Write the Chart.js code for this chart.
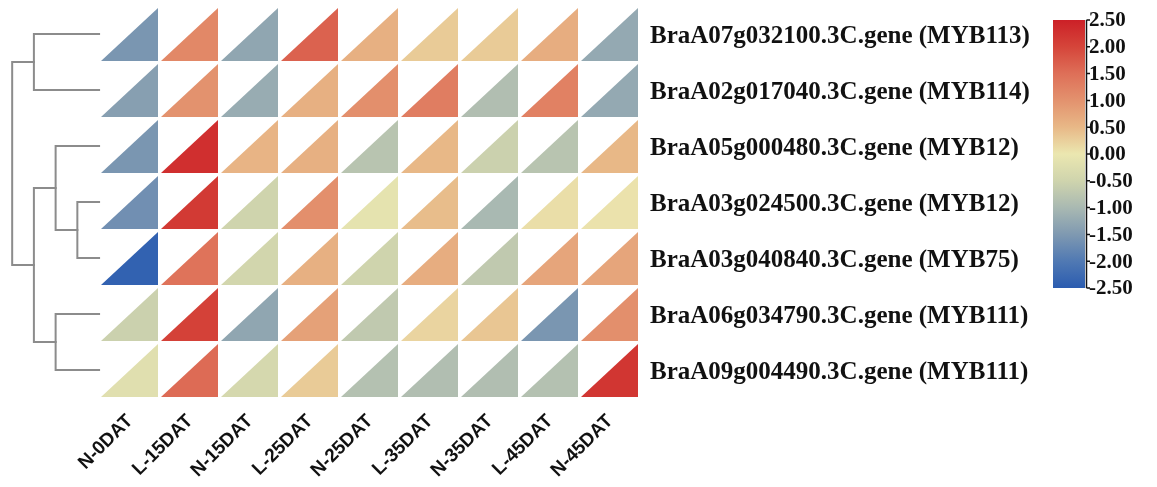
<!DOCTYPE html>
<html>
<head>
<meta charset="utf-8">
<script src="https://cdn.jsdelivr.net/npm/chart.js@4.4.0/dist/chart.umd.min.js"></script>
<style>
  html, body { margin: 0; padding: 0; background: #ffffff; }
  #wrap { width: 1157px; height: 487px; }
</style>
</head>
<body>
<div id="wrap"><canvas id="heat" width="1157" height="487"></canvas></div>
<script>
// Sample columns (time points, L = light, N = normal)
const samples = ['N-0DAT', 'L-15DAT', 'N-15DAT', 'L-25DAT', 'N-25DAT', 'L-35DAT', 'N-35DAT', 'L-45DAT', 'N-45DAT'];

// Genes, in dendrogram leaf order
const genes = [
  'BraA07g032100.3C.gene (MYB113)',
  'BraA02g017040.3C.gene (MYB114)',
  'BraA05g000480.3C.gene (MYB12)',
  'BraA03g024500.3C.gene (MYB12)',
  'BraA03g040840.3C.gene (MYB75)',
  'BraA06g034790.3C.gene (MYB111)',
  'BraA09g004490.3C.gene (MYB111)'
];

// Row-scaled expression (z-score) per gene
const myb113   = [-1.55, 1.15, -1.30, 1.65, 0.60, 0.30, 0.30, 0.65, -1.25];
const myb114   = [-1.40, 1.00, -1.20, 0.60, 1.05, 1.30, -0.90, 1.25, -1.25];
const myb12a05 = [-1.55, 2.30, 0.55, 0.60, -0.80, 0.50, -0.55, -0.80, 0.50];
const myb12a03 = [-1.65, 2.15, -0.50, 1.05, -0.10, 0.45, -1.00, 0.10, 0.05];
const myb75    = [-2.40, 1.45, -0.45, 0.60, -0.50, 0.65, -0.70, 0.75, 0.75];
const myb111a06 = [-0.55, 2.05, -1.30, 0.80, -0.70, 0.20, 0.35, -1.55, 1.05];
const myb111a09 = [-0.20, 1.55, -0.40, 0.30, -0.85, -0.90, -0.90, -0.85, 2.20];
const rows = [myb113, myb114, myb12a05, myb12a03, myb75, myb111a06, myb111a09];

// Hierarchical clustering of the genes: [childA, childB, height]; leaves 0-6, merged clusters 7+
const merges = [
  [3, 4, 1],
  [2, 7, 2],
  [5, 6, 2],
  [0, 1, 3],
  [8, 9, 3],
  [10, 11, 4]
];

// Colour scale
const scaleTicks = [2.5, 2.0, 1.5, 1.0, 0.5, 0.0, -0.5, -1.0, -1.5, -2.0, -2.5];
const stopValues = [-2.5, -2.0, -1.5, -1.0, -0.5, 0.0, 0.5, 1.0, 1.5, 2.0, 2.5];
const stopColors = ['#2b5cb0', '#5079b3', '#7f99b1', '#a9b9b2', '#cfd4ad', '#ebe7b0',
                    '#e8b887', '#e3926e', '#de6f58', '#d5453a', '#cc2027'];

function hexToRgb(h) {
  const n = parseInt(h.slice(1), 16);
  return [(n >> 16) & 255, (n >> 8) & 255, n & 255];
}
function colorFor(v) {
  const c = Math.max(stopValues[0], Math.min(stopValues[stopValues.length - 1], v));
  let i = 0;
  while (i < stopValues.length - 2 && c > stopValues[i + 1]) i++;
  const t = (c - stopValues[i]) / (stopValues[i + 1] - stopValues[i]);
  const a = hexToRgb(stopColors[i]), b = hexToRgb(stopColors[i + 1]);
  const m = a.map((x, k) => Math.round(x + (b[k] - x) * t));
  return `rgb(${m[0]},${m[1]},${m[2]})`;
}

// Heatmap cells as points on the x/y scales
const cells = [];
rows.forEach((vals, r) => vals.forEach((v, c) => cells.push({ x: c, y: r, v })));

// Dendrogram links: each merge becomes a bracket joining its two children
const nodeY = genes.map((_, i) => i);
const nodeH = genes.map(() => 0);
const dendroSets = merges.map(([a, b, h]) => {
  const seg = [
    { x: nodeH[a], y: nodeY[a] },
    { x: h, y: nodeY[a] },
    { x: h, y: nodeY[b] },
    { x: nodeH[b], y: nodeY[b] }
  ];
  nodeY.push((nodeY[a] + nodeY[b]) / 2);
  nodeH.push(h);
  return {
    type: 'line',
    xAxisID: 'xd',
    yAxisID: 'y',
    data: seg,
    showLine: true,
    borderColor: '#8c8c8c',
    borderWidth: 2,
    pointRadius: 0,
    fill: false,
    tension: 0,
    borderCapStyle: 'square'
  };
});

// Draws each cell as a lower-right triangle
const trianglePlugin = {
  id: 'triangles',
  afterDatasetsDraw(chart) {
    const meta = chart.getDatasetMeta(0);
    const xs = chart.scales.x, ys = chart.scales.y;
    const ctx = chart.ctx;
    ctx.save();
    meta.data.forEach((pt, i) => {
      const d = cells[i];
      const left = xs.getPixelForValue(d.x - 0.5) + 1;
      const right = xs.getPixelForValue(d.x + 0.5) - 2;
      const top = ys.getPixelForValue(d.y - 0.5) + 2;
      const bottom = ys.getPixelForValue(d.y + 0.5) - 1;
      ctx.beginPath();
      ctx.moveTo(left, bottom);
      ctx.lineTo(right, bottom);
      ctx.lineTo(right, top);
      ctx.closePath();
      ctx.fillStyle = colorFor(d.v);
      ctx.fill();
    });
    ctx.restore();
  }
};

// Colour bar legend on the right
const colorbarPlugin = {
  id: 'colorbar',
  afterDraw(chart) {
    const ctx = chart.ctx;
    const x0 = 1053, x1 = 1085, y0 = 20, y1 = 288;
    const vMax = stopValues[stopValues.length - 1], vMin = stopValues[0];
    const yOf = v => y0 + (vMax - v) / (vMax - vMin) * (y1 - y0);
    ctx.save();
    const g = ctx.createLinearGradient(0, y1, 0, y0);
    stopValues.forEach((v, i) => g.addColorStop((v - vMin) / (vMax - vMin), stopColors[i]));
    ctx.fillStyle = g;
    ctx.fillRect(x0, y0, x1 - x0, y1 - y0);
    ctx.strokeStyle = '#111';
    ctx.lineWidth = 1.5;
    ctx.beginPath();
    ctx.moveTo(x1 + 1.5, y0);
    ctx.lineTo(x1 + 1.5, y1);
    scaleTicks.forEach(v => {
      const y = yOf(v);
      ctx.moveTo(x1 + 1.5, y);
      ctx.lineTo(x1 + 5, y);
    });
    ctx.stroke();
    ctx.fillStyle = '#111';
    ctx.font = 'bold 21px "Liberation Serif", "Times New Roman", serif';
    ctx.textAlign = 'left';
    ctx.textBaseline = 'middle';
    scaleTicks.forEach(v => ctx.fillText(v.toFixed(2), 1089, yOf(v) + 1));
    ctx.restore();
  }
};

new Chart(document.getElementById('heat'), {
  type: 'scatter',
  data: {
    datasets: [
      { label: 'expression', data: cells, pointRadius: 0, pointHoverRadius: 0, xAxisID: 'x', yAxisID: 'y' },
      ...dendroSets
    ]
  },
  options: {
    responsive: false,
    devicePixelRatio: 1,
    animation: false,
    events: [],
    layout: { padding: { left: 10, top: 6, right: 0, bottom: 0 } },
    plugins: { legend: { display: false }, tooltip: { enabled: false } },
    scales: {
      x: {
        type: 'linear',
        position: 'bottom',
        min: -2,
        max: 8.5,
        grid: { display: false, drawTicks: false },
        border: { display: false },
        afterBuildTicks: s => { s.ticks = samples.map((_, i) => ({ value: i })); },
        afterFit: s => { s.height = 89; s.paddingLeft = 0; s.paddingRight = 0; },
        ticks: {
          autoSkip: false,
          minRotation: 45,
          maxRotation: 45,
          padding: 12,
          color: '#111',
          font: { family: '"Liberation Sans", Arial, sans-serif', size: 19, weight: 'bold' },
          callback: v => samples[v]
        }
      },
      xd: {
        type: 'linear',
        display: false,
        reverse: true,
        min: -24.9,
        max: 4.1
      },
      y: {
        type: 'linear',
        position: 'right',
        reverse: true,
        min: -0.5,
        max: 6.5,
        grid: { display: false, drawTicks: false },
        border: { display: false },
        afterBuildTicks: s => { s.ticks = genes.map((_, i) => ({ value: i })); },
        afterFit: s => { s.width = 517; s.paddingTop = 0; s.paddingBottom = 0; },
        ticks: {
          autoSkip: false,
          padding: 10,
          labelOffset: 3,
          color: '#111',
          font: { family: '"Liberation Serif", "Times New Roman", serif', size: 25, weight: 'bold' },
          callback: v => genes[v]
        }
      }
    }
  },
  plugins: [trianglePlugin, colorbarPlugin]
});
</script>
</body>
</html>
